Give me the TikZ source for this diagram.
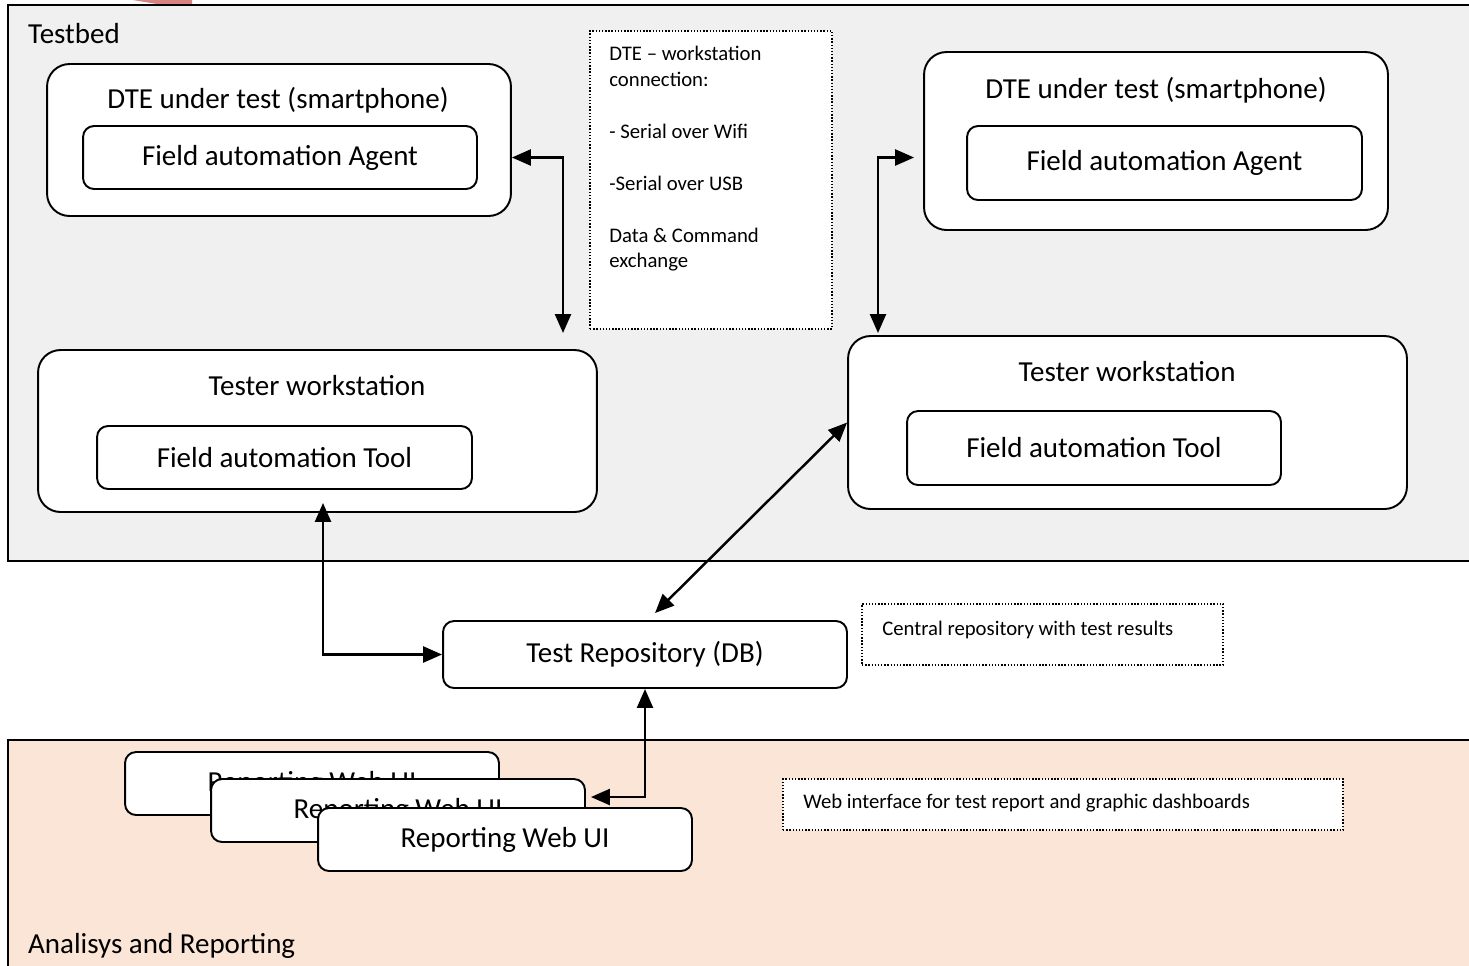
\documentclass[tikz,border=0pt]{standalone}
\usepackage{fontspec}
\setmainfont{Carlito}
\usetikzlibrary{arrows.meta}
\definecolor{benchgray}{HTML}{F0F0F0}
\definecolor{reportpeach}{HTML}{FBE5D6}
\definecolor{markred}{HTML}{D98282}

\begin{document}
\begin{tikzpicture}[x=0.02cm, y=-0.02cm,
  every node/.style={font=\fontsize{16.5}{19.8}\selectfont},
  panel/.style={draw, line width=1.3pt},
  outerbox/.style={draw, fill=white, rounded corners=0.45cm, line width=1.1pt, inner sep=0pt},
  innerbox/.style={draw, fill=white, rounded corners=0.22cm, line width=1.1pt, inner sep=0pt},
  notebox/.style={draw, fill=white, densely dotted, line width=0.8pt, inner sep=0pt},
  notetext/.style={font=\fontsize{11.8}{14.74}\selectfont, align=left, inner sep=0pt},
  link/.style={line width=1.4pt, {Triangle[length=0.38cm,width=0.32cm]}-{Triangle[length=0.38cm,width=0.32cm]}}]
  \useasboundingbox (0,0) rectangle (1469,965);
  % Panels
  \fill[markred] (133,0) -- (192,0) -- (192,5) -- (163,5) -- cycle;
  \draw[panel, fill=benchgray] (8,5) rectangle (1480,561);
  \draw[panel, fill=reportpeach] (8,740) rectangle (1480,980);
  \node[anchor=west] (bench) at (22,34) {Testbed};
  \node[anchor=west] (report) at (22,946) {Analisys and Reporting};
  % Smartphones
  \node[outerbox, minimum width=9.28cm, minimum height=3.04cm] (dteL) at (279,140) {};
  \node (dteLt) at (278,100) {DTE under test (smartphone)};
  \node[innerbox, minimum width=7.88cm, minimum height=1.26cm] (agentL) at (280,157.5) {Field automation Agent};
  \node[outerbox, minimum width=9.28cm, minimum height=3.56cm] (dteR) at (1156,141) {};
  \node (dteRt) at (1156,90) {DTE under test (smartphone)};
  \node[innerbox, minimum width=7.9cm, minimum height=1.48cm] (agentR) at (1164.5,163) {Field automation Agent};
  % Workstations
  \node[outerbox, minimum width=11.18cm, minimum height=3.24cm] (wsL) at (317.5,431) {};
  \node (wsLt) at (317,386) {Tester workstation};
  \node[innerbox, minimum width=7.5cm, minimum height=1.26cm] (toolL) at (284.5,457.5) {Field automation Tool};
  \node[outerbox, minimum width=11.18cm, minimum height=3.46cm] (wsR) at (1127.5,422.5) {};
  \node (wsRt) at (1127,372) {Tester workstation};
  \node[innerbox, minimum width=7.48cm, minimum height=1.48cm] (toolR) at (1094,448) {Field automation Tool};
  % Repository and reporting
  \node[innerbox, minimum width=8.08cm, minimum height=1.34cm] (db) at (645,654.5) {Test Repository (DB)};
  \node[innerbox, minimum width=7.48cm, minimum height=1.26cm] (webA) at (312,783.5) {Reporting Web UI};
  \node[innerbox, minimum width=7.48cm, minimum height=1.26cm] (webB) at (398,810.5) {Reporting Web UI};
  \node[innerbox, minimum width=7.48cm, minimum height=1.26cm] (webC) at (505,839.5) {Reporting Web UI};
  % Notes
  \node[notebox, minimum width=4.84cm, minimum height=5.96cm] (note1) at (711,180) {};
  \node[notetext, anchor=north west] (note1t) at (609,46)
    {DTE – workstation\\ connection:\\[14.74pt] - Serial over Wifi\\[14.74pt] -Serial over USB\\[14.74pt] Data \& Command\\ exchange};
  \node[notebox, minimum width=7.22cm, minimum height=1.22cm] (note2) at (1042.5,634.5) {};
  \node[notetext, anchor=west] (note2t) at (882,630) {Central repository with test results};
  \node[notebox, minimum width=11.2cm, minimum height=1.02cm] (note3) at (1063,804.5) {};
  \node[notetext, anchor=west] (note3t) at (803,803) {Web interface for test report and graphic dashboards};
  % Connections
  \coordinate (downL) at (563,333);
  \coordinate (downR) at (878,333);
  \draw[link] (dteL.east |- agentL) -| (downL);
  \draw[link, shorten <=0.18cm] (dteR.west |- agentL) -| (downR);
  \draw[link] (wsR.west) -- ([xshift=0.2cm, yshift=0.14cm]db.north);
  \draw[link] ([xshift=0.11cm, yshift=0.2cm]wsL.south) |- (db.west);
  \draw[link] (db.south) |- ([xshift=0.1cm, yshift=0.27cm]webB.east);
\end{tikzpicture}
\end{document}
